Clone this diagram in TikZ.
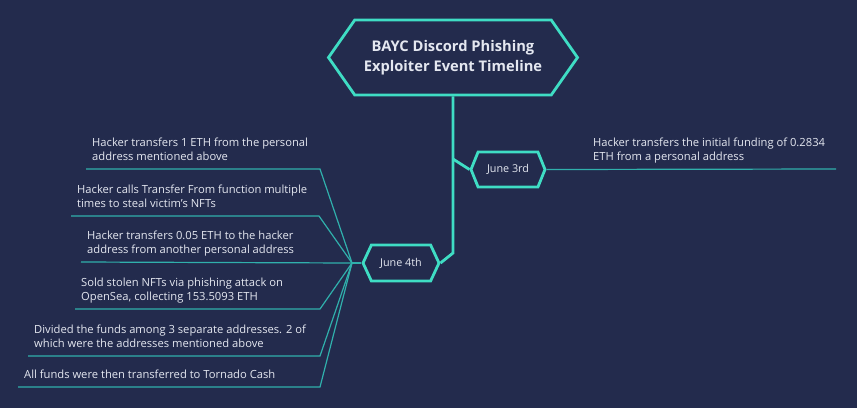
\documentclass[tikz,border=0pt]{standalone}
\usepackage{fontspec}
\setmainfont{Open Sans}
\usepackage{tikz}
\usetikzlibrary{shapes}

\definecolor{navy}{HTML}{232B4D}
\definecolor{hexline}{HTML}{3FDDC4}
\definecolor{leafline}{HTML}{30B0AC}
\definecolor{ink}{HTML}{E4E7F0}

\begin{document}
\begin{tikzpicture}[x=1pt,y=-1pt]

    \tikzstyle{phase}=[signal,signal to=east and west,draw=hexline,line width=2.8pt,fill=navy,text=ink,inner sep=0pt]
    \tikzstyle{item}=[anchor=south west,align=left,text=ink,font=\fontsize{11.2}{14}\selectfont,inner xsep=6pt,inner ysep=5.5pt,text depth=3pt]
    \tikzstyle{trunk}=[draw=hexline,line width=2.8pt]
    \tikzstyle{leaf}=[draw=leafline,line width=1.2pt]

    \fill[navy] (0,0) rectangle (857,408);
    \useasboundingbox (0,0) rectangle (857,408);

    % timeline heads
    \node [phase,signal pointer angle=110,minimum width=249pt,minimum height=75pt,align=center,
           font=\fontsize{14.7}{20}\selectfont\bfseries] (title) at (453,57.5)
           {BAYC Discord Phishing\\Exploiter Event Timeline};
    \node [phase,signal pointer angle=136,minimum width=74pt,minimum height=35pt,font=\fontsize{10.8}{12}\selectfont] (j3) at (508,169.5) {June 3rd};
    \node [phase,signal pointer angle=130,minimum width=76pt,minimum height=36pt,font=\fontsize{10.8}{12}\selectfont] (j4) at (401,263) {June 4th};

    \coordinate (b3) at (453,159);
    \coordinate (c4) at (453,253);
    \draw [trunk] (title.south) -- (c4) -- (j4.east);
    \draw [trunk] (b3) -- (j3.west);

    % June 3rd
    \node [item] (r1) at (587,169) {Hacker transfers the initial funding of 0.2834\\ETH from a personal address};
    \coordinate (k0) at (836,169);
    \draw [leaf] (j3.east) -- (k0);

    % June 4th
    \coordinate (hub) at (352,263);
    \draw [leaf] (hub) -- (j4.west);

    \node [item] (i1) at (86,169) {Hacker transfers 1 ETH from the personal\\address mentioned above};
    \node [item] (i2) at (71,216) {Hacker calls Transfer From function multiple\\times to steal victim’s NFTs};
    \node [item] (i3) at (81,262) {Hacker transfers 0.05 ETH to the hacker\\address from another personal address};
    \node [item] (i4) at (75,309) {Sold stolen NFTs via phishing attack on\\OpenSea, collecting 153.5093 ETH};
    \node [item] (i5) at (28,356) {Divided the funds among 3 separate addresses. 2 of\\which were the addresses mentioned above};
    \node [item] (i6) at (18,387) {All funds were then transferred to Tornado Cash};

    \coordinate (k1) at (320,169);
    \coordinate (k2) at (319,216);
    \coordinate (k4) at (320,309);
    \coordinate (k5) at (320,356);
    \coordinate (k6) at (320,387);

    \draw [leaf] (i1.south west) -- (k1) -- (hub);
    \draw [leaf] (i2.south west) -- (k2) -- (hub);
    \draw [leaf] (i3.south west) -- (hub);
    \draw [leaf] (i4.south west) -- (k4) -- (hub);
    \draw [leaf] (i5.south west) -- (k5) -- (hub);
    \draw [leaf] (i6.south west) -- (k6) -- (hub);

\end{tikzpicture}
\end{document}
